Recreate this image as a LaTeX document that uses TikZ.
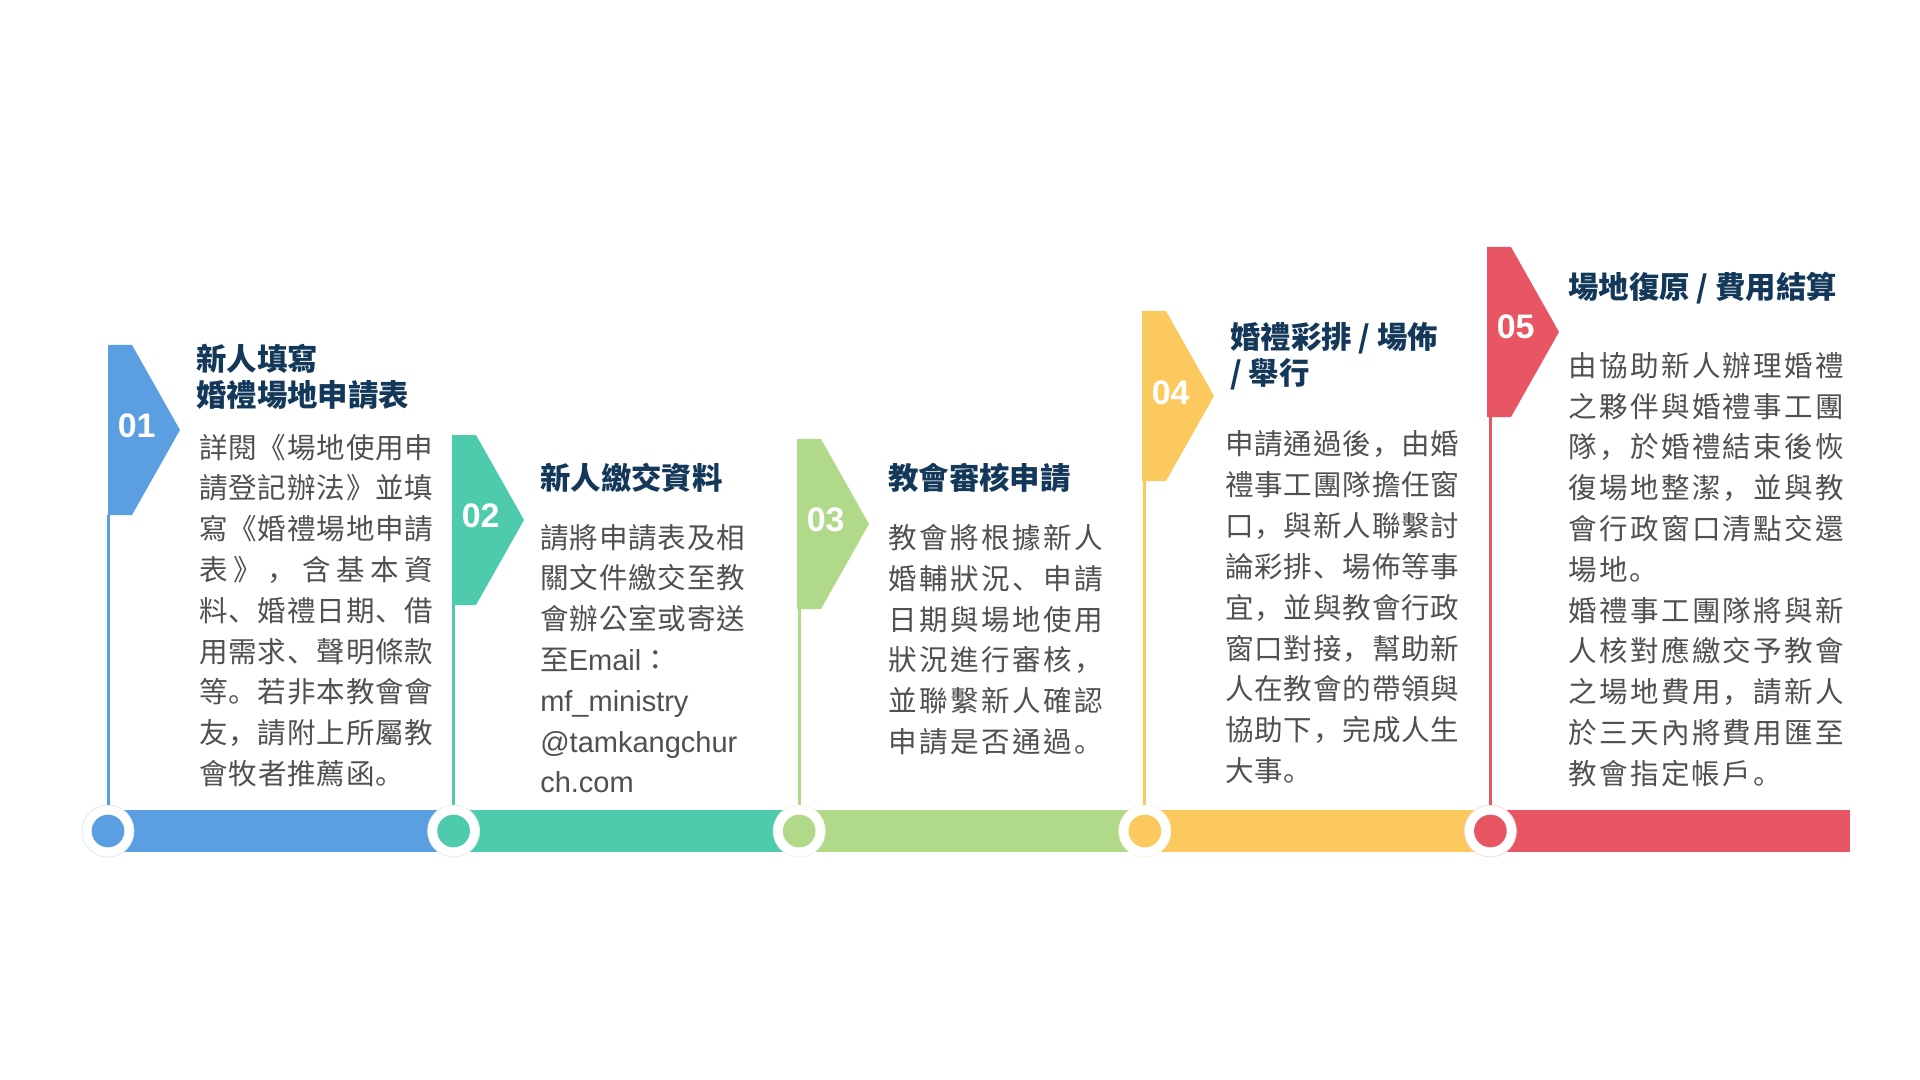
\documentclass[tikz,border=0pt]{standalone}
\usepackage{fontspec}
\setmainfont{Liberation Sans}
\newfontfamily\cjk{Noto Sans CJK TC}
\newfontfamily\cjkp{Noto Sans CJK SC}
\newfontfamily\lat{Liberation Sans}
\newdimen\PX \PX=0.75pt
\definecolor{cblue}{HTML}{5B9EE2}
\definecolor{cteal}{HTML}{4ECBAD}
\definecolor{cgreen}{HTML}{B1D98A}
\definecolor{cyellow}{HTML}{FCC95F}
\definecolor{cred}{HTML}{E85563}
\definecolor{navy}{HTML}{14385A}
\definecolor{bodygray}{HTML}{505050}
\makeatletter
\def\jl@put#1{\ifx#1，{\cjkp#1}\else\ifx#1。{\cjkp#1}\else\ifx#1、{\cjkp#1}\else#1\fi\fi\fi}
\def\jl@loop#1{\ifx#1\@nil\else\hfil\jl@put#1\expandafter\jl@loop\fi}
\def\jl@first#1{\jl@put#1\jl@loop}
\newcommand\jline[2]{\hbox to #1\PX{\jl@first#2\@nil}}
\makeatother
\tikzset{
  titletext/.style={anchor=base west, inner sep=0pt, text=navy, font=\cjk\bfseries\fontsize{22.8}{27}\selectfont},
  bodytext/.style={anchor=base west, inner sep=0pt, text=bodygray, font=\cjk\fontsize{21.4}{30}\selectfont},
  numtext/.style={anchor=base west, inner sep=0pt, text=white, font=\lat\bfseries\fontsize{25.5}{30}\selectfont},
  ring/.style={circle, fill=white, draw=#1!22, line width=0.6pt, minimum size=39pt, inner sep=0pt},
  dot/.style={circle, fill=#1, minimum size=24.5pt, inner sep=0pt},
  stem/.style={draw=#1, line width=2.25pt},
}
\begin{document}
\begin{tikzpicture}[x=0.75pt, y=-0.75pt]
\useasboundingbox (0,0) rectangle (1920,1080);
\fill[white] (0,0) rectangle (1920,1080);
% timeline bar
\fill[cblue]   (108,810)    rectangle (453.6,852);
\fill[cteal]   (453.6,810)  rectangle (799.2,852);
\fill[cgreen]  (799.2,810)  rectangle (1144.8,852);
\fill[cyellow] (1144.8,810) rectangle (1490.4,852);
\fill[cred]    (1490.4,810) rectangle (1850,852);
% flags
\fill[cblue]   (108,345)  -- ++(24,0) -- ++(48,85) -- ++(-48,85) -- ++(-24,0) -- cycle;
\fill[cteal]   (452,435)  -- ++(24,0) -- ++(48,85) -- ++(-48,85) -- ++(-24,0) -- cycle;
\fill[cgreen]  (797,439)  -- ++(24,0) -- ++(48,85) -- ++(-48,85) -- ++(-24,0) -- cycle;
\fill[cyellow] (1142,311) -- ++(24,0) -- ++(48,85) -- ++(-48,85) -- ++(-24,0) -- cycle;
\fill[cred]    (1487,247) -- ++(24,0) -- ++(48,85) -- ++(-48,85) -- ++(-24,0) -- cycle;
\coordinate (f1) at (108,515);
\coordinate (f2) at (453.6,605);
\coordinate (f3) at (799.2,609);
\coordinate (f4) at (1144.8,481);
\coordinate (f5) at (1490.4,417);
% numbers
\node[numtext] (n1) at (117.5,437) {01};
\node[numtext] (n2) at (461.5,527) {02};
\node[numtext] (n3) at (806.5,531) {03};
\node[numtext] (n4) at (1151.5,404) {04};
\node[numtext] (n5) at (1496.5,339) {05};
% circles
\node[ring=cblue]   (c1) at (108,831) {};
\node[ring=cteal]   (c2) at (453.6,831) {};
\node[ring=cgreen]  (c3) at (799.2,831) {};
\node[ring=cyellow] (c4) at (1144.8,831) {};
\node[ring=cred]    (c5) at (1490.4,831) {};
\node[dot=cblue]   (d1) at (c1) {};
\node[dot=cteal]   (d2) at (c2) {};
\node[dot=cgreen]  (d3) at (c3) {};
\node[dot=cyellow] (d4) at (c4) {};
\node[dot=cred]    (d5) at (c5) {};
% stems
\draw[stem=cblue]   (f1) -- (c1.north);
\draw[stem=cteal]   (f2) -- (c2.north);
\draw[stem=cgreen]  (f3) -- (c3.north);
\draw[stem=cyellow] (f4) -- (c4.north);
\draw[stem=cred]    (f5) -- (c5.north);
% titles
\node[titletext] (t1a) at (196,370.5) {新人填寫};
\node[titletext] (t1b) at (196,406.5) {婚禮場地申請表};
\node[titletext] (t2) at (540,489) {新人繳交資料};
\node[titletext] (t3) at (888,489) {教會審核申請};
\node[titletext] (t4a) at (1230,349) {婚禮彩排 / 場佈};
\node[titletext] (t4b) at (1230,385) {/ 舉行};
\node[titletext] (t5) at (1568,298.5) {場地復原 / 費用結算};
% column 1
\foreach \txt [count=\i from 0] in {
  {\jline{234}{詳閱《場地使用申}},
  {\jline{234}{請登記辦法》並填}},
  {\jline{234}{寫《婚禮場地申請}},
  {\jline{234}{表》，含基本資}},
  {\jline{234}{料、婚禮日期、借}},
  {\jline{234}{用需求、聲明條款}},
  {\jline{234}{等。若非本教會會}},
  {\jline{234}{友，請附上所屬教}},
  {\jline{205}{會牧者推薦函。}}}
  {\node[bodytext] (b1-\i) at (199,{458+40.8*\i}) {\txt};}
% column 2
\foreach \txt [count=\i from 0] in {
  {\jline{205}{請將申請表及相}},
  {\jline{205}{關文件繳交至教}},
  {\jline{205}{會辦公室或寄送}},
  {至{\lat\fontsize{21.75}{30}\selectfont Email}：},
  {\lat\fontsize{21.75}{30}\selectfont mf\_ministry},
  {\lat\fontsize{21.75}{30}\selectfont @tamkangchur},
  {\lat\fontsize{21.75}{30}\selectfont ch.com}}
  {\node[bodytext] (b2-\i) at (540,{548+40.8*\i}) {\txt};}
% column 3
\foreach \txt [count=\i from 0] in {
  {\jline{215}{教會將根據新人}},
  {\jline{215}{婚輔狀況、申請}},
  {\jline{215}{日期與場地使用}},
  {\jline{215}{狀況進行審核，}},
  {\jline{215}{並聯繫新人確認}},
  {\jline{215}{申請是否通過。}}}
  {\node[bodytext] (b3-\i) at (888,{548.5+40.8*\i}) {\txt};}
% column 4
\foreach \txt [count=\i from 0] in {
  {\jline{234}{申請通過後，由婚}},
  {\jline{234}{禮事工團隊擔任窗}},
  {\jline{234}{口，與新人聯繫討}},
  {\jline{234}{論彩排、場佈等事}},
  {\jline{234}{宜，並與教會行政}},
  {\jline{234}{窗口對接，幫助新}},
  {\jline{234}{人在教會的帶領與}},
  {\jline{234}{協助下，完成人生}},
  {\jline{87}{大事。}}}
  {\node[bodytext] (b4-\i) at (1225,{455+40.8*\i}) {\txt};}
% column 5
\foreach \txt [count=\i from 0] in {
  {\jline{276}{由協助新人辦理婚禮}},
  {\jline{276}{之夥伴與婚禮事工團}},
  {\jline{276}{隊，於婚禮結束後恢}},
  {\jline{276}{復場地整潔，並與教}},
  {\jline{276}{會行政窗口清點交還}},
  {\jline{90}{場地。}},
  {\jline{276}{婚禮事工團隊將與新}},
  {\jline{276}{人核對應繳交予教會}},
  {\jline{276}{之場地費用，請新人}},
  {\jline{276}{於三天內將費用匯至}},
  {\jline{214}{教會指定帳戶。}}}
  {\node[bodytext] (b5-\i) at (1568,{376.2+40.8*\i}) {\txt};}
\end{tikzpicture}
\end{document}
